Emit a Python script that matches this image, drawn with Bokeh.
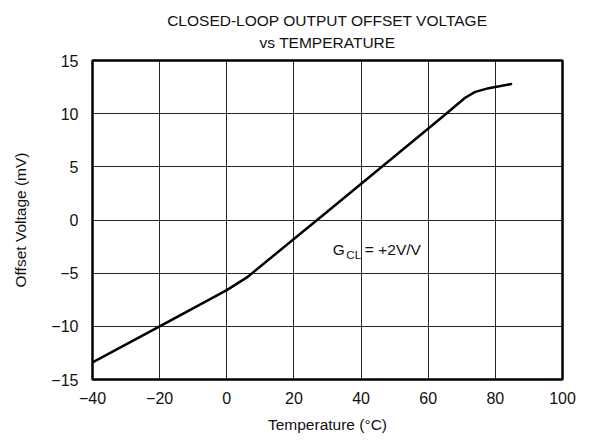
from bokeh.plotting import figure
from bokeh.models import FixedTicker, Range1d, Title
from bokeh.core.properties import value
from bokeh.embed import file_html
from bokeh.resources import INLINE

# Data
temperature = [-40, -20, 0, 6, 30, 50, 65, 71, 74, 78, 85]
offset_mv = [-13.4, -10.0, -6.6, -5.4, 0.8, 6.0, 9.9, 11.5, 12.05, 12.4, 12.8]

x_ticks = [-40, -20, 0, 20, 40, 60, 80, 100]
y_ticks = [-15, -10, -5, 0, 5, 10, 15]

title_lines = ["CLOSED-LOOP OUTPUT OFFSET VOLTAGE", "vs TEMPERATURE"]
x_label = "Temperature (°C)"
y_label = "Offset Voltage (mV)"

FONT = "Liberation Sans"

p = figure(output_backend="svg", toolbar_location=None,
           frame_width=470, frame_height=319,
           x_range=Range1d(-40, 100), y_range=Range1d(-15, 15),
           min_border_left=92, min_border_right=24,
           min_border_bottom=62, min_border_top=0)

title = Title(text="\n".join(title_lines), align="center", text_font=FONT,
              text_font_size="15.5px", text_font_style="normal",
              text_line_height=1.25,
              text_color="#111111", standoff=20)
try:
    title.text_align = "center"
except Exception:
    pass
p.add_layout(title, "above")

p.background_fill_color = "white"
p.border_fill_color = "white"
p.outline_line_color = "black"
p.outline_line_width = 2.5

for ax in (p.xaxis[0], p.yaxis[0]):
    ax.axis_line_color = None
    ax.major_tick_line_color = None
    ax.minor_tick_line_color = None
    ax.major_label_text_font = FONT
    ax.major_label_text_font_size = "16px"
    ax.major_label_text_color = "#111111"
    ax.axis_label_text_font = FONT
    ax.axis_label_text_font_size = "15.5px"
    ax.axis_label_text_font_style = "normal"
    ax.axis_label_text_color = "#111111"

p.xaxis.ticker = FixedTicker(ticks=x_ticks)
p.yaxis.ticker = FixedTicker(ticks=y_ticks)
p.xaxis.major_label_overrides = {t: str(t).replace("-", "\u2212") for t in x_ticks}
p.yaxis.major_label_overrides = {t: str(t).replace("-", "\u2212") for t in y_ticks}
p.xaxis.axis_label = x_label
p.yaxis.axis_label = y_label
p.xaxis.major_label_standoff = 6
p.yaxis.major_label_standoff = 8
p.xaxis.axis_label_standoff = 9
p.yaxis.axis_label_standoff = 19

p.xgrid.ticker = FixedTicker(ticks=x_ticks)
p.ygrid.ticker = FixedTicker(ticks=y_ticks)
for g in (p.xgrid[0], p.ygrid[0]):
    g.grid_line_color = "black"
    g.grid_line_width = 1
    g.grid_line_alpha = 0.85

p.line(temperature, offset_mv, line_color="black", line_width=2.5)

# Annotation G_CL = +2V/V
ann_x, ann_y = 31.6, -2.8
p.text([ann_x], [ann_y], text=["G"], text_font=value(FONT), text_font_size="15.5px",
       text_baseline="alphabetic", text_align="left", text_color="#111111")
p.text([ann_x], [ann_y], text=["CL"], text_font=value(FONT), text_font_size="11.5px",
       text_baseline="alphabetic", text_align="left", text_color="#111111",
       x_offset=13.5, y_offset=5)
p.text([ann_x], [ann_y], text=["= +2V/V"], text_font=value(FONT), text_font_size="15.5px",
       text_baseline="alphabetic", text_align="left", text_color="#111111",
       x_offset=32)

open("out.html", "w").write(file_html(p, INLINE))
